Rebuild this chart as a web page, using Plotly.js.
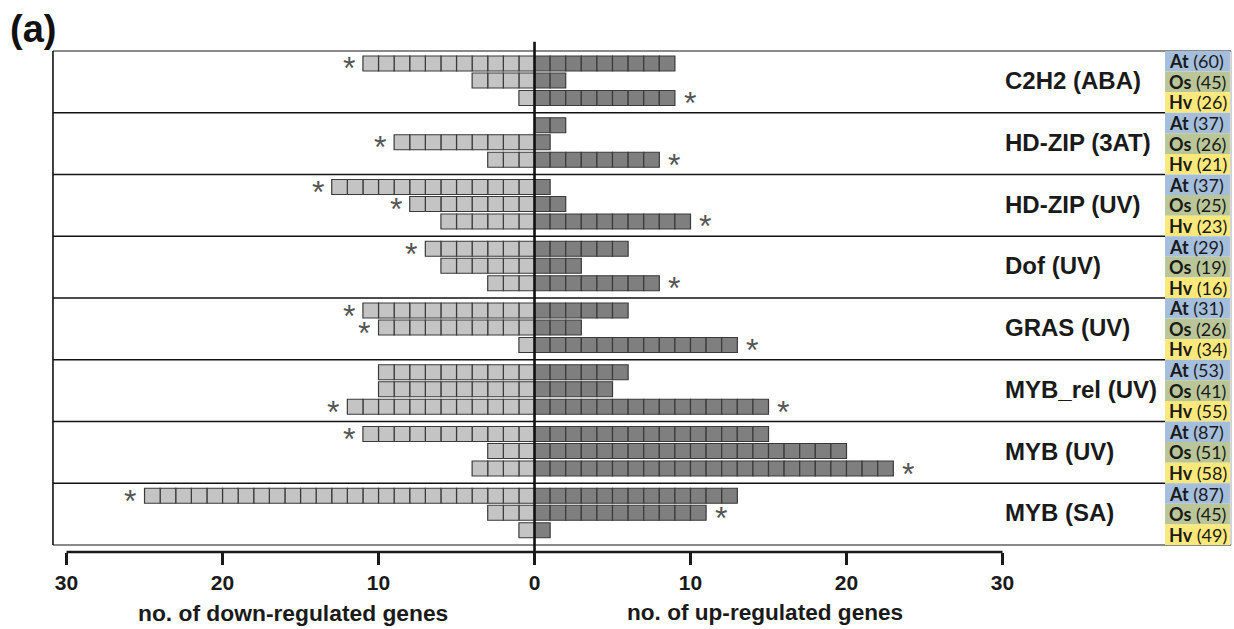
<!DOCTYPE html>
<html><head><meta charset="utf-8">
<script src="https://cdn.plot.ly/plotly-3.0.1.min.js"></script>
<style>body{margin:0;background:#fff}#chart{width:1234px;height:629px}</style>
</head><body><div id="chart"></div>
<script>
// ---- data ----
const families = ['C2H2 (ABA)','HD-ZIP (3AT)','HD-ZIP (UV)','Dof (UV)','GRAS (UV)','MYB_rel (UV)','MYB (UV)','MYB (SA)'];
const species = ['At','Os','Hv'];
const totals = [[60,45,26],[37,26,21],[37,25,23],[29,19,16],[31,26,34],[53,41,55],[87,51,58],[87,45,49]];
const downGenes = [[11,4,1],[0,9,3],[13,8,6],[7,6,3],[11,10,1],[10,10,12],[11,3,4],[25,3,1]];
const upGenes = [[9,2,9],[2,1,8],[1,2,10],[6,3,8],[6,3,13],[6,5,15],[15,20,23],[13,11,1]];
const downStar = [[1,0,0],[0,1,0],[1,1,0],[1,0,0],[1,1,0],[0,0,1],[1,0,0],[1,0,0]];
const upStar = [[0,0,1],[0,0,1],[0,0,1],[0,0,1],[0,0,1],[0,0,1],[0,0,1],[0,1,0]];
const tickVals = [-30,-20,-10,0,10,20,30];
const tickText = ['30','20','10','0','10','20','30'];
const axisTitles = ['no. of down-regulated genes','no. of up-regulated genes'];
const panelLabel = '(a)';

// ---- styles / layout geometry ----
const speciesColors = ['#a5bedb','#bac698','#fde97b'];
const ROW_OFF = [0.2024, 0.4777, 0.761];
const BAR_W = 0.243;
const FRAME_L = -30.87, FRAME_R = 44.65, BOX_L = 40.42;
const Y_TOP = -0.178, Y_BOT = 8.113;
const ARIAL = 'Liberation Sans, Arial, sans-serif';

const dn = {x:[],y:[],base:[]}, up = {x:[],y:[],base:[]};
const annotations = [], shapes = [];
const starFont = {family:ARIAL,size:32,color:'#555'};

families.forEach((fam, g) => {
  species.forEach((sp, r) => {
    const yy = g + ROW_OFF[r];
    for (let k = 1; k <= downGenes[g][r]; k++) { dn.x.push(1); dn.y.push(yy); dn.base.push(-k); }
    for (let k = 1; k <= upGenes[g][r]; k++) { up.x.push(1); up.y.push(yy); up.base.push(k-1); }
    if (downStar[g][r]) annotations.push({x:-downGenes[g][r]-0.9, y:yy, text:'*', showarrow:false,
      font:starFont, yshift:-5});
    if (upStar[g][r]) annotations.push({x:upGenes[g][r]+0.95, y:yy, text:'*', showarrow:false,
      font:starFont, yshift:-5});
    // species label box
    shapes.push({type:'rect', xref:'x', yref:'y', x0:BOX_L, x1:FRAME_R-0.07, y0:g+r/3, y1:g+(r+1)/3,
      fillcolor:speciesColors[r], line:{width:0}, layer:'above'});
    annotations.push({x:BOX_L+0.15, y:g+(r+0.5)/3, xanchor:'left', yanchor:'middle', showarrow:false,
      text:'<b>'+sp+'</b> ('+totals[g][r]+')', font:{family:'Lato, Noto Sans, sans-serif',size:18,color:'#1a1a1a'}});
  });
  annotations.push({x:30, y:g+ROW_OFF[1], xanchor:'left', yanchor:'middle', showarrow:false,
    text:fam, font:{family:ARIAL,size:24,weight:'bold',color:'#1a1a1a'}});
});

// frame lines (drawn before boxes)
const frameShapes = [];
for (let g = 0; g <= families.length; g++) {
  const edge = (g === 0 || g === families.length);
  frameShapes.push({type:'line', xref:'x', yref:'y', x0:FRAME_L, x1: edge ? FRAME_R : BOX_L, y0:g, y1:g,
    line:{color: edge ? '#8a8a8a' : '#111', width: edge ? 2 : 1.6}, layer:'above'});
}
frameShapes.push({type:'line', xref:'x', yref:'y', x0:FRAME_L, x1:FRAME_L, y0:0, y1:families.length,
  line:{color:'#111', width:1.6}, layer:'above'});
frameShapes.push({type:'line', xref:'x', yref:'y', x0:FRAME_R, x1:FRAME_R, y0:0, y1:families.length,
  line:{color:'#aaa', width:1}, layer:'above'});
// center line
frameShapes.push({type:'line', xref:'x', yref:'y', x0:0, x1:0, y0:-0.15, y1:Y_BOT,
  line:{color:'#111', width:2.6}, layer:'above'});
// axis baseline
frameShapes.push({type:'line', xref:'x', yref:'paper', x0:tickVals[0], x1:tickVals[tickVals.length-1], y0:0, y1:0,
  line:{color:'#1a1a1a', width:2.6}, layer:'above'});

annotations.push({xref:'x', yref:'paper', x:-15.5, y:-0.119, text:axisTitles[0], showarrow:false,
  xanchor:'center', yanchor:'middle', font:{family:ARIAL,size:22.8,weight:'bold',color:'#1a1a1a'}});
annotations.push({xref:'x', yref:'paper', x:14.8, y:-0.119, text:axisTitles[1], showarrow:false,
  xanchor:'center', yanchor:'middle', font:{family:ARIAL,size:22.6,weight:'bold',color:'#1a1a1a'}});
annotations.push({xref:'paper', yref:'paper', x:-0.014, y:1.021, text:panelLabel, showarrow:false,
  xanchor:'center', yanchor:'middle', font:{family:ARIAL,size:38,weight:'bold',color:'#111'}});

const traces = [
  {type:'bar', orientation:'h', x:dn.x, y:dn.y, base:dn.base, width:BAR_W,
   marker:{color:'#c4c4c4', line:{color:'#3a3a3a', width:1.2}}, hoverinfo:'skip'},
  {type:'bar', orientation:'h', x:up.x, y:up.y, base:up.base, width:BAR_W,
   marker:{color:'#7f7f7f', line:{color:'#3a3a3a', width:1.2}}, hoverinfo:'skip'}
];

const layout = {
  width:1234, height:629, paper_bgcolor:'#fff', plot_bgcolor:'rgba(0,0,0,0)',
  margin:{l:50, r:0, t:40, b:77}, showlegend:false, barmode:'overlay',
  xaxis:{range:[-31.06, 44.84], tickvals:tickVals, ticktext:tickText, ticks:'outside', ticklen:12,
    tickwidth:2.6, tickcolor:'#1a1a1a', showgrid:false, zeroline:false, showline:false,
    tickfont:{family:ARIAL, size:21, weight:'bold', color:'#1a1a1a'}, fixedrange:true},
  yaxis:{range:[Y_BOT, Y_TOP], showgrid:false, zeroline:false, showticklabels:false, ticks:'', fixedrange:true},
  shapes: frameShapes.concat(shapes),
  annotations: annotations
};
Plotly.newPlot('chart', traces, layout, {staticPlot:true, displayModeBar:false});
</script>
</body></html>
